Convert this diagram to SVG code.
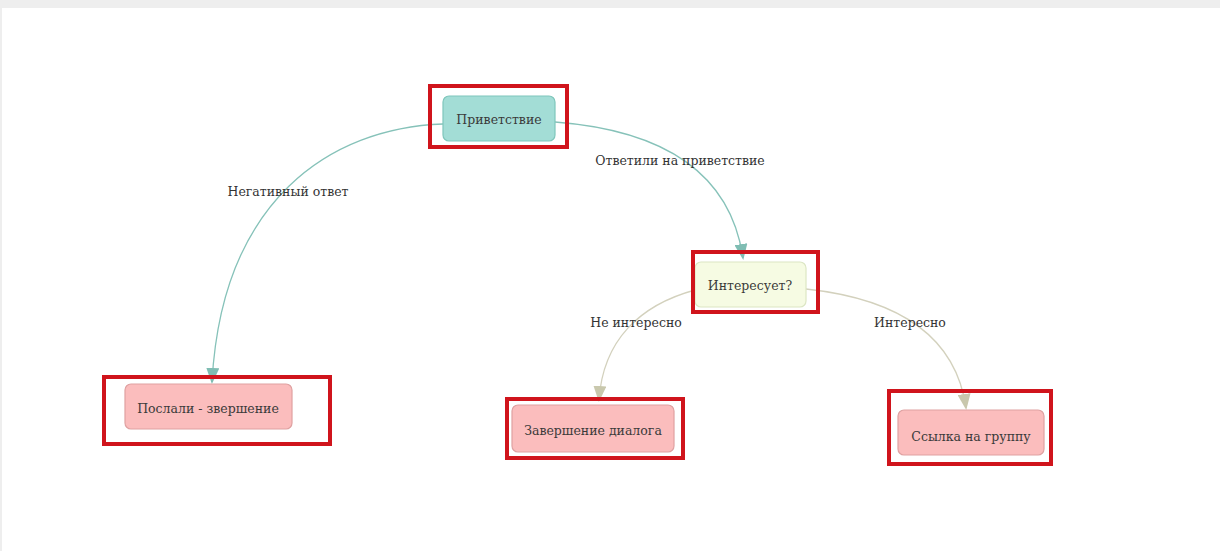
<svg xmlns="http://www.w3.org/2000/svg" width="1220" height="551" viewBox="0 0 1220 551">
  <style>
    text { font-family: 'DejaVu Serif', 'Liberation Serif', serif; font-size: 12.5px; fill: #333333; text-anchor: middle; }
    .ntext { dominant-baseline: central; fill: #3a3a3a; }
    .hl { fill: none; stroke: #d0141c; stroke-width: 4; }
    .start { fill: #a3ddd6; stroke: #7fc6bb; stroke-width: 1.2; }
    .question { fill: #f6fbe3; stroke: #dce6c4; stroke-width: 1.2; }
    .end { fill: #fbbdbd; stroke: #dfa1a1; stroke-width: 1.2; }
    .e-teal { fill: none; stroke: #86c2b9; stroke-width: 1.3; }
    .e-sand { fill: none; stroke: #d3d1bd; stroke-width: 1.3; }
  </style>
  <defs>
    <marker id="arrow-teal" viewBox="0 0 16 13" refX="14" refY="6.5" markerWidth="16" markerHeight="13" markerUnits="userSpaceOnUse" orient="auto">
      <path d="M0,0 L16,6.5 L0,13 Z" fill="#7fbdb3"/>
    </marker>
    <marker id="arrow-sand" viewBox="0 0 16 13" refX="14" refY="6.5" markerWidth="16" markerHeight="13" markerUnits="userSpaceOnUse" orient="auto">
      <path d="M0,0 L16,6.5 L0,13 Z" fill="#c9c8ad"/>
    </marker>
  </defs>

  <!-- page frame -->
  <rect x="0" y="0" width="1220" height="551" fill="#ffffff"/>
  <rect x="0" y="0" width="1220" height="8" fill="#eeeeee"/>
  <rect x="0" y="0" width="2" height="551" fill="#eeeeee"/>

  <!-- connectors -->
  <g id="connectors">
    <path class="e-teal" d="M443,124 C330,128 222,200 212,382" marker-end="url(#arrow-teal)"/>
    <path class="e-teal" d="M555,122 C660,130 730,170 743,258" marker-end="url(#arrow-teal)"/>
    <path class="e-sand" d="M695,290 C640,305 603,340 599,400" marker-end="url(#arrow-sand)"/>
    <path class="e-sand" d="M806,289 C890,298 955,330 966,408" marker-end="url(#arrow-sand)"/>
    <text x="288" y="196">Негативный ответ</text>
    <text x="680" y="165">Ответили на приветствие</text>
    <text x="636" y="327">Не интересно</text>
    <text x="910" y="327">Интересно</text>
  </g>

  <!-- nodes -->
  <g id="node-greeting">
    <rect class="start" x="443" y="96" width="112" height="45" rx="6"/>
    <text class="ntext" x="499" y="119">Приветствие</text>
    <rect class="hl" x="430" y="86" width="137" height="61"/>
  </g>
  <g id="node-interested">
    <rect class="question" x="695" y="262" width="111" height="45" rx="6"/>
    <text class="ntext" x="750" y="285">Интересует?</text>
    <rect class="hl" x="693" y="252" width="125" height="60"/>
  </g>
  <g id="node-sent">
    <rect class="end" x="125" y="384" width="167" height="45" rx="6"/>
    <text class="ntext" x="208" y="408">Послали - звершение</text>
    <rect class="hl" x="104" y="377" width="226" height="67"/>
  </g>
  <g id="node-finish">
    <rect class="end" x="512" y="405" width="162" height="47" rx="6"/>
    <text class="ntext" x="593" y="430">Завершение диалога</text>
    <rect class="hl" x="507" y="399" width="176" height="59"/>
  </g>
  <g id="node-link">
    <rect class="end" x="898" y="410" width="146" height="45" rx="6"/>
    <text class="ntext" x="971" y="436">Ссылка на группу</text>
    <rect class="hl" x="889" y="391" width="162" height="73"/>
  </g>
</svg>
